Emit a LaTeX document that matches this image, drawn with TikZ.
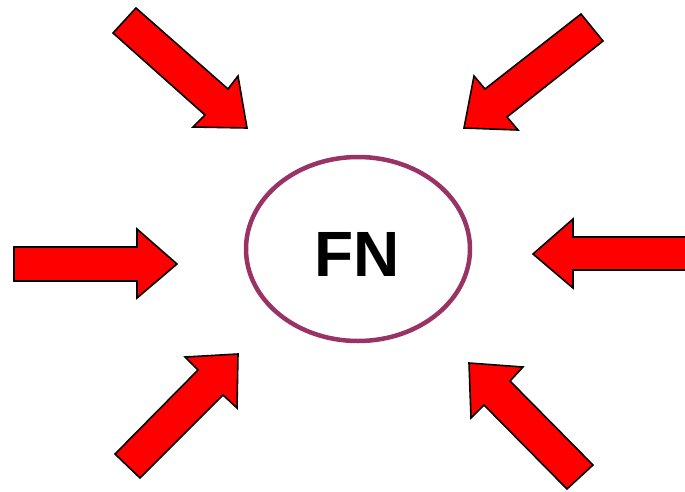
\documentclass[tikz,border=0pt]{standalone}
\usepackage{fontspec}
\setmainfont{Liberation Sans}
\usetikzlibrary{shapes.geometric}
\definecolor{ringpurple}{RGB}{153,51,102}
\tikzset{
  blockarrow/.style={fill=red, draw=black, line width=1.6pt, line join=miter},
  ring/.style={ellipse, draw=ringpurple, line width=4.5pt, minimum width=224pt, minimum height=184pt, inner sep=0pt},
  bigtext/.style={font=\fontsize{64}{64}\selectfont\bfseries, inner sep=0pt}
}
\begin{document}
\begin{tikzpicture}[x=1pt, y=-1pt]
  \useasboundingbox (0,0) rectangle (685,491);
  \clip (0,0) rectangle (685,491);
  \fill[white] (0,0) rectangle (685,491);

  % central ring and its label
  \node[ring] (fn) at (358,249) {};
  \node[bigtext, anchor=center] (fnlabel) at (357,254) {FN};

  % upper-left arrow
  \draw[blockarrow] (113,33) -- (136,8) -- (228,89) -- (238,76) -- (247,128) -- (193,127) -- (205,115) -- cycle;
  % upper-right arrow
  \draw[blockarrow] (581,14) -- (603,41) -- (507,117) -- (518,130) -- (464,128) -- (474,76) -- (485,89) -- cycle;
  % left arrow
  \draw[blockarrow] (14,247) -- (137,247) -- (137,229) -- (177,264) -- (137,298) -- (137,281) -- (14,281) -- cycle;
  % right arrow
  \draw[blockarrow] (695,237) -- (573,237) -- (573,219) -- (533,254) -- (573,288) -- (573,270) -- (695,270) -- cycle;
  % lower-left arrow
  \draw[blockarrow] (115,454) -- (140,478) -- (223,395) -- (237,408) -- (238,354) -- (185,357) -- (198,370) -- cycle;
  % lower-right arrow
  \draw[blockarrow] (593,465) -- (567,489) -- (484,405) -- (471,418) -- (469,363) -- (523,367) -- (510,381) -- cycle;
\end{tikzpicture}
\end{document}
